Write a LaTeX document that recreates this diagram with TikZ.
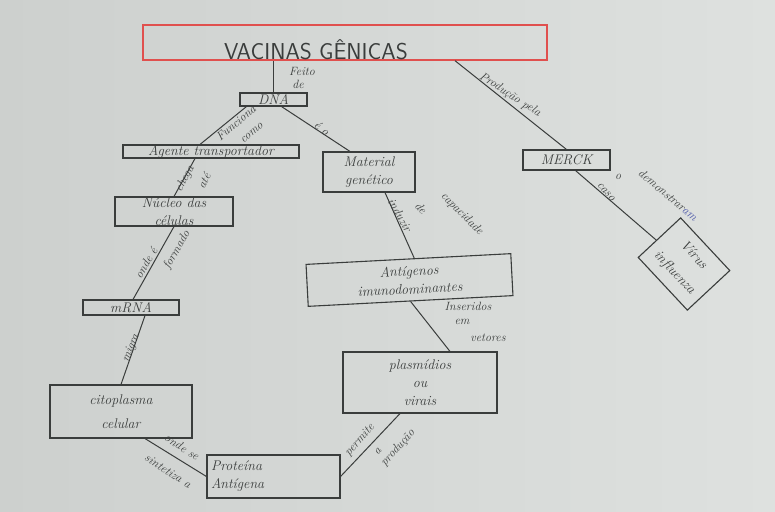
\documentclass[tikz,border=0pt]{standalone}
\usepackage{fontspec}
\usetikzlibrary{positioning,calc}
\definecolor{paper}{HTML}{DEE1DF}
\definecolor{paperdark}{HTML}{CDD0CE}
\definecolor{pencil}{HTML}{3A3D3C}
\definecolor{redpen}{HTML}{E0504E}
\definecolor{bluepen}{HTML}{4A55A8}
\tikzset{
  box/.style={rectangle, draw=pencil, line width=1.1pt, align=center, inner sep=2pt,
              font=\fontsize{14}{18}\selectfont\itshape, text=pencil},
  titlebox/.style={box, draw=redpen, line width=1.4pt, minimum width=404pt, minimum height=35pt},
  lbl/.style={font=\fontsize{12}{13}\selectfont\itshape, text=pencil, align=center, inner sep=1pt},
  link/.style={draw=pencil, line width=1pt}
}
\begin{document}
\begin{tikzpicture}[x=1pt, y=-1pt]
 \shade[left color=paperdark, right color=paper] (0,0) rectangle (775,511);
 \useasboundingbox (0,0) rectangle (775,511);
 % title
 \node[titlebox] (title) at (345,42.5) {};
 \node[font=\fontsize{23}{25}\selectfont\sffamily, text=pencil] (titletxt) at (316,50) {VACINAS GÊNICAS};
 % left branch
 \node[box, minimum width=67pt, minimum height=13pt, inner sep=0pt] (dna) at (273.5,99.5) {DNA};
 \node[box, minimum width=176pt, minimum height=13pt, inner sep=0pt] (agente) at (211,151.5) {Agente transportador};
 \node[box, minimum width=118pt, minimum height=29pt, inner sep=0pt] (nucleo) at (174,211.5) {Núcleo das\\células};
 \node[box, minimum width=96pt, minimum height=15pt, inner sep=0pt] (mrna) at (131,307.5) {mRNA};
 \node[box, minimum width=142pt, minimum height=53pt] (cito) at (121,411.5) {citoplasma\\[6pt]celular};
 \node[box, minimum width=133pt, minimum height=43pt, align=left, text width=125pt, inner sep=2pt] (proteina) at (273.5,476.5) {Proteína\\Antígena};
 % middle branch
 \node[box, minimum width=92pt, minimum height=40pt] (material) at (369,172) {Material\\genético};
 \node[box, minimum width=205pt, minimum height=42pt, rotate=3] (antig) at (409.5,280) {Antígenos\\imunodominantes};
 \node[box, minimum width=154pt, minimum height=61pt] (plasm) at (420,382.5) {plasmídios\\ou\\virais};
 % right branch
 \node[box, minimum width=87pt, minimum height=20pt] (merck) at (566.5,160) {MERCK};
 \node[box, minimum width=72pt, minimum height=58pt, rotate=-47] (virus) at (684,264) {Vírus\\[8pt]influenza};
 % connectors
 \draw[link] (dna.north) -- (dna.north |- title.south);
 \draw[link] ([xshift=7pt]dna.south west) -- ([xshift=-11pt]agente.north);
 \draw[link] ([xshift=8pt]dna.south) -- ([xshift=-19pt]material.north);
 \draw[link] ([xshift=-16pt]agente.south) -- (nucleo.north);
 \draw[link] (nucleo.south) -- ([xshift=2pt]mrna.north);
 \draw[link] ([xshift=14pt]mrna.south) -- (cito.north);
 \draw[link] ([xshift=24pt]cito.south) -- (proteina.west);
 \draw[link] ([xshift=-20pt]plasm.south) -- (proteina.east);
 \draw[link] ([xshift=16pt]material.south) -- ([xshift=6pt]antig.north);
 \draw[link] (antig.south) -- ([xshift=30pt]plasm.north);
 \draw[link] ([xshift=110pt]title.south) -- (merck.north);
 \draw[link] ([xshift=9pt]merck.south) -- (virus);
 % labels
 \node[lbl] (lfeito) at (302,71) {Feito};
 \node[lbl] (lde1) at (298,84) {de};
 \node[lbl, rotate=40] (lfunc) at (236,123) {Funciona};
 \node[lbl, rotate=40] (lcomo) at (252,133) {como};
 \node[lbl, rotate=-38] (leo) at (322,128) {é o};
 \node[lbl, rotate=62] (lchega) at (185,179) {chega};
 \node[lbl, rotate=62] (late) at (204,181) {até};
 \node[lbl, rotate=60] (londe) at (146,263) {onde é};
 \node[lbl, rotate=60] (lform) at (177,250) {formado};
 \node[lbl, rotate=68] (lmigra) at (131,348) {migra};
 \node[lbl, rotate=-33] (lsint) at (182,447) {onde se};
 \node[lbl, rotate=-33] (lsint2) at (168,471) {sintetiza a};
 \node[lbl, rotate=48] (lperm) at (360,440) {permite};
 \node[lbl, rotate=48] (la) at (378,452) {a};
 \node[lbl, rotate=48] (lproduc) at (398,448) {produção};
 \node[lbl, rotate=-60] (linduz) at (400,215) {induzir};
 \node[lbl, rotate=-50] (lde) at (421,208) {de};
 \node[lbl, rotate=-45] (lcap) at (462,214) {capacidade};
 \node[lbl] (lins) at (468,306) {Inseridos};
 \node[lbl] (lem) at (462,322) {em};
 \node[lbl] (lvet) at (488,338) {vetores};
 \node[lbl, rotate=-33] (lprod) at (510,95) {Produção pela};
 \node[lbl] (lo) at (618,177) {o};
 \node[lbl, rotate=-48] (lcaso) at (606,192) {caso};
 \node[lbl, rotate=-40] (ldemo) at (668,195) {demonstrar\textcolor{bluepen}{am}};
\end{tikzpicture}
\end{document}
